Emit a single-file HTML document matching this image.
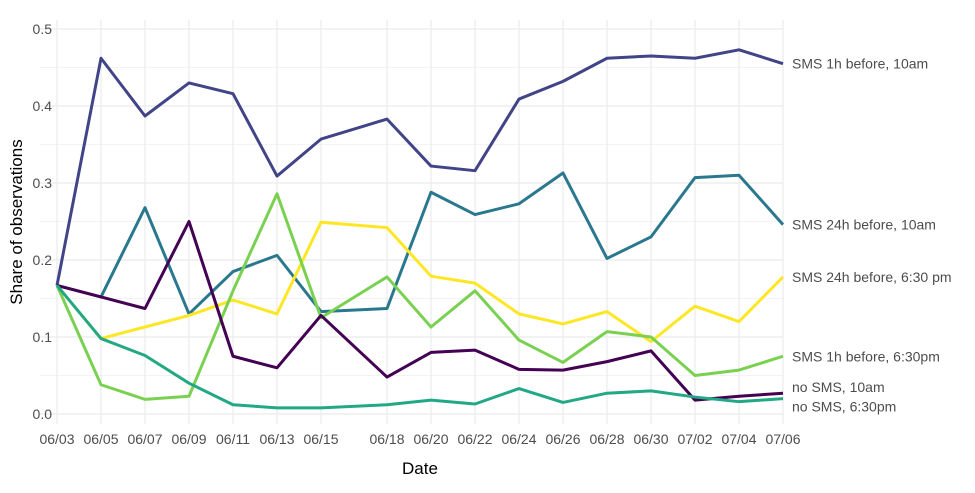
<!DOCTYPE html>
<html><head><meta charset="utf-8"><style>
body{margin:0;background:#fff;font-family:"Liberation Sans",sans-serif}
svg text{font-family:"Liberation Sans",sans-serif}
</style></head><body>
<svg id="chart" width="975" height="488" xmlns="http://www.w3.org/2000/svg">
<g id="grid"></g>
<g id="axes"></g>
<g id="series"></g>
<text x="420" y="474" font-size="17" text-anchor="middle" fill="#000">Date</text>
<text transform="translate(22,222) rotate(-90)" font-size="17" text-anchor="middle" fill="#000">Share of observations</text>
</svg>
<script>
const dateLabels=["06/03","06/05","06/07","06/09","06/11","06/13","06/15","06/18","06/20","06/22","06/24","06/26","06/28","06/30","07/02","07/04","07/06"];
const dayOffsets=[0,2,4,6,8,10,12,15,17,19,21,23,25,27,29,31,33];
const yTicks=[0,0.1,0.2,0.3,0.4,0.5];
const seriesNames=["SMS 1h before, 10am","SMS 24h before, 10am","SMS 24h before, 6:30 pm","SMS 1h before, 6:30pm","no SMS, 10am","no SMS, 6:30pm"];
const seriesColors=["#414487","#2A788E","#FDE725","#7AD151","#440154","#22A884"];
const sms1h10=[0.167,0.462,0.387,0.430,0.416,0.309,0.357,0.383,0.322,0.316,0.409,0.432,0.462,0.465,0.462,0.473,0.455];
const sms24h10=[0.167,0.152,0.268,0.130,0.185,0.206,0.133,0.137,0.288,0.259,0.273,0.313,0.202,0.230,0.307,0.310,0.246];
const sms24h630=[0.167,0.098,0.113,0.128,0.148,0.130,0.249,0.242,0.179,0.170,0.130,0.117,0.133,0.094,0.140,0.120,0.178];
const sms1h630=[0.167,0.038,0.019,0.023,0.160,0.286,0.125,0.178,0.113,0.160,0.096,0.067,0.107,0.100,0.050,0.057,0.075];
const noSms10=[0.167,0.152,0.137,0.250,0.075,0.060,0.128,0.048,0.080,0.083,0.058,0.057,0.068,0.082,0.018,0.023,0.027];
const noSms630=[0.167,0.098,0.076,0.040,0.012,0.008,0.008,0.012,0.018,0.013,0.033,0.015,0.027,0.030,0.022,0.016,0.020];
const allSeries=[sms1h10,sms24h10,sms24h630,sms1h630,noSms10,noSms630];
const labelNudge=[0,0,0,0,-6,8];
const NS="http://www.w3.org/2000/svg";
const x=d=>57+d*(783-57)/33;
const y=v=>414-v*770;
function mk(t,a,p){const e=document.createElementNS(NS,t);for(const k in a)e.setAttribute(k,a[k]);p.appendChild(e);return e;}
const grid=document.getElementById('grid'),axes=document.getElementById('axes'),ser=document.getElementById('series');
for(let i=0;i<yTicks.length-1;i++){const v=(yTicks[i]+yTicks[i+1])/2;
 const l=mk('line',{x1:40,x2:783,y1:y(v),y2:y(v),stroke:'#f3f3f3','stroke-width':1},grid);
 }
yTicks.forEach(v=>{const l=mk('line',{x1:40,x2:783,y1:y(v),y2:y(v),stroke:'#ebebeb','stroke-width':1.2},grid);
 
 const t=mk('text',{x:52,y:y(v)+5,'font-size':14,'text-anchor':'end',fill:'#4d4d4d'},axes);t.textContent=v.toFixed(1);
 });
dayOffsets.forEach((d,i)=>{const l=mk('line',{x1:x(d),x2:x(d),y1:20,y2:424,stroke:'#ebebeb','stroke-width':1.2},grid);
 
 const t=mk('text',{x:x(d),y:444,'font-size':14,'text-anchor':'middle',fill:'#4d4d4d'},axes);t.textContent=dateLabels[i];
 });
allSeries.forEach((s,k)=>{const pts=s.map((v,i)=>x(dayOffsets[i])+','+y(v)).join(' ');
 const p=mk('polyline',{points:pts,fill:'none',stroke:seriesColors[k],'stroke-width':3,'stroke-linejoin':'round'},ser);
 
 const t=mk('text',{x:792,y:y(s[s.length-1])+5+labelNudge[k],'font-size':14,fill:'#4d4d4d'},ser);t.textContent=seriesNames[k];
 });
</script>
</body></html>
